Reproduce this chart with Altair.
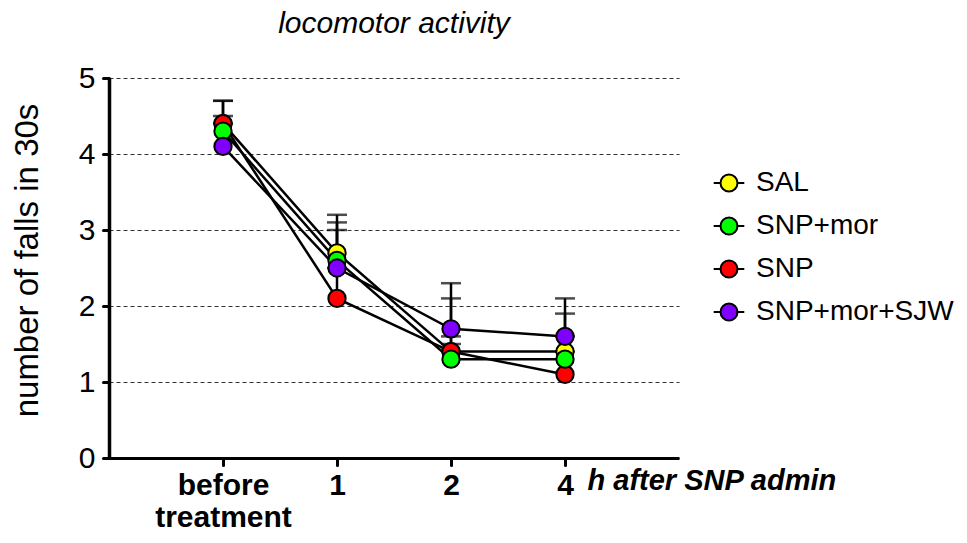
import altair as alt
import pandas as pd

# ---- data ----
x_positions = [0, 1, 2, 3]
x_labels = ["before treatment", "1", "2", "4"]
series_names = ["SAL", "SNP+mor", "SNP", "SNP+mor+SJW"]
series_colors = ["#FFFF00", "#00FF00", "#FF0000", "#8000FF"]
draw_order = ["SAL", "SNP", "SNP+mor", "SNP+mor+SJW"]

sal_mean = [4.4, 2.7, 1.4, 1.4]
sal_sem = [0.3, 0.5, 0.7, 0.5]
snpmor_mean = [4.3, 2.6, 1.3, 1.3]
snpmor_sem = [0.2, 0.5, 0.3, 0.3]
snp_mean = [4.4, 2.1, 1.4, 1.1]
snp_sem = [0.3, 0.4, 0.1, 0.3]
sjw_mean = [4.1, 2.5, 1.7, 1.6]
sjw_sem = [0.3, 0.5, 0.6, 0.5]

means = {"SAL": sal_mean, "SNP+mor": snpmor_mean, "SNP": snp_mean, "SNP+mor+SJW": sjw_mean}
sems = {"SAL": sal_sem, "SNP+mor": snpmor_sem, "SNP": snp_sem, "SNP+mor+SJW": sjw_sem}

rows = []
for s in draw_order:
    for xp, m, e in zip(x_positions, means[s], sems[s]):
        rows.append({"series": s, "x": xp, "mean": m, "top": round(m + e, 3)})
df = pd.DataFrame(rows)

FONT = "Liberation Sans"

# label expression built from x_labels (multi-line for the first)
parts = []
for xp, lab in zip(x_positions, x_labels):
    words = lab.split(" ")
    if len(words) > 1:
        txt = "[" + ",".join("'" + w + "'" for w in words) + "]"
    else:
        txt = "'" + lab + "'"
    parts.append(f"datum.value == {xp} ? {txt} : ")
label_expr = "".join(parts) + "''"

x_enc = alt.X(
    "x:Q",
    scale=alt.Scale(domain=[-1, 4], nice=False, zero=False),
    axis=alt.Axis(
        values=x_positions, labelExpr=label_expr, labelAngle=0,
        labelFont=FONT, labelFontSize=30, labelFontWeight="bold", labelColor="black",
        labelPadding=5, labelLineHeight=32,
        tickSize=7, tickWidth=3, tickColor="black", tickCap="round",
        domainColor="black", domainWidth=3, grid=False,
        title="h after SNP admin", titleX=478, titleY=31, titleAlign="left",
        titleBaseline="alphabetic", titleFont=FONT, titleFontSize=29,
        titleFontWeight="bold", titleFontStyle="italic", titleColor="black",
    ),
)

y_scale = alt.Scale(domain=[0, 5], nice=False)
y_axis = alt.Axis(
    values=[0, 1, 2, 3, 4, 5], format="d",
    labelFont=FONT, labelFontSize=30, labelColor="black", labelPadding=8,
    tickSize=6, tickWidth=3, tickColor="black", tickCap="round",
    domainColor="black", domainWidth=3.5,
    grid=True, gridDash=[4, 3], gridColor="#333333", gridWidth=1,
    title="number of falls in 30s", titleFont=FONT, titleFontSize=33,
    titleFontWeight="normal", titleColor="black",
    titleX=-82, titleY=182, titleAlign="center", titleBaseline="middle",
)

base = alt.Chart(df)

err = base.mark_rule(color="black", strokeWidth=2.5).encode(
    x=x_enc, y=alt.Y("mean:Q", scale=y_scale, axis=y_axis), y2="top:Q"
)
caps = base.mark_tick(orient="horizontal", color="black", size=20, thickness=2.5).encode(
    x="x:Q", y="top:Q"
)
lines = base.mark_line(color="black", strokeWidth=2.5).encode(
    x="x:Q", y="mean:Q", detail="series:N"
)

legend_symbol = "M-1.8,0L-1,0M1,0L1.8,0M-1,0A1,1,0,1,1,1,0A1,1,0,1,1,-1,0Z"
points = base.mark_point(
    shape="circle", filled=True, size=300, stroke="black", strokeWidth=2, opacity=1
).encode(
    x="x:Q",
    y="mean:Q",
    fill=alt.Fill(
        "series:N",
        scale=alt.Scale(domain=series_names, range=series_colors),
        legend=alt.Legend(
            orient="none", legendX=606, legendY=91, title=None,
            symbolType=legend_symbol, symbolSize=289, symbolStrokeColor="black",
            symbolStrokeWidth=2, symbolOpacity=1,
            labelFont=FONT, labelFontSize=28, labelColor="black",
            labelOffset=13, rowPadding=15, labelLimit=400,
        ),
    ),
)

chart = alt.layer(err, caps, lines, points).properties(
    width=570,
    height=380,
    title=alt.TitleParams(
        "locomotor activity", font=FONT, fontSize=30, fontStyle="italic",
        fontWeight="normal", anchor="middle", baseline="alphabetic",
        offset=0, frame="group", color="black",
    ),
    padding={"left": 101, "top": 70, "right": 280, "bottom": 77},
    autosize=alt.AutoSizeParams(type="none"),
    background="white",
).configure_view(strokeWidth=0)

chart.save("out.html", embed_options={"renderer": "svg", "actions": False})
